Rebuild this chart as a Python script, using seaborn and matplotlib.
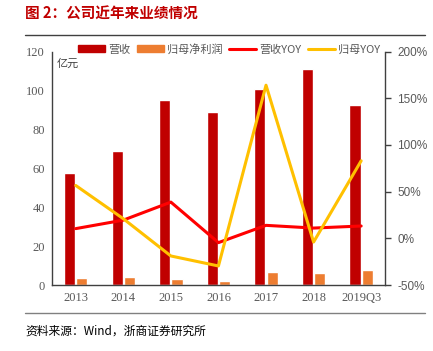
import numpy as np
import pandas as pd
import seaborn as sns
import matplotlib.pyplot as plt
from matplotlib.patches import Patch
from matplotlib.lines import Line2D
from matplotlib.ticker import FuncFormatter

years = ["2013", "2014", "2015", "2016", "2017", "2018", "2019Q3"]
revenue = [57.5, 69, 95, 89, 101, 111, 92.7]
net_profit = [3.6, 4.1, 3.1, 2.2, 6.7, 6.2, 7.9]
revenue_yoy = [0.104, 0.195, 0.388, -0.046, 0.139, 0.11, 0.132]
profit_yoy = [0.566, 0.21, -0.189, -0.296, 1.64, -0.04, 0.83]

sns.set_style("white")
plt.rcParams["font.family"] = ["Noto Sans CJK SC", "DejaVu Sans"]

c_rev, c_np = "#C00000", "#ED7D31"
c_ryoy, c_pyoy = "#FF0000", "#FFC000"

df = pd.DataFrame({
    "年份": years * 2,
    "值": revenue + net_profit,
    "指标": ["营收"] * 7 + ["归母净利润"] * 7,
})

fig = plt.figure(figsize=(4.33, 3.51), dpi=100)
ax = fig.add_axes([0.120, 0.188, 0.769, 0.665])
sns.barplot(data=df, x="年份", y="值", hue="指标", palette=[c_rev, c_np],
            width=0.52, gap=0.1, ax=ax, legend=False, saturation=1)
ax2 = ax.twinx()
pos = np.arange(len(years))
sns.lineplot(x=pos, y=revenue_yoy, ax=ax2, color=c_ryoy, linewidth=2.2)
sns.lineplot(x=pos, y=profit_yoy, ax=ax2, color=c_pyoy, linewidth=2.2)
ax.set_xlim(-0.5, 6.5)
ax.set_ylim(0, 120)
ax.set_yticks(range(0, 121, 20))
ax2.set_ylim(-0.5, 2.0)
ax2.set_yticks(np.arange(-0.5, 2.01, 0.5))
ax2.yaxis.set_major_formatter(FuncFormatter(lambda v, p: f"{v:.0%}"))
ax.set_xlabel("")
ax.set_ylabel("")

for a in (ax, ax2):
    a.spines["top"].set_visible(False)
    for s in ("left", "bottom", "right"):
        a.spines[s].set_color("#404040")
        a.spines[s].set_linewidth(1.0)
ax.spines["right"].set_visible(False)
ax2.spines["left"].set_visible(False)
ax2.spines["bottom"].set_visible(False)

ax.tick_params(axis="both", length=0, labelsize=9, labelcolor="#595959", pad=5)
ax2.tick_params(axis="y", length=4, width=1, color="#404040", labelsize=8.5,
                labelcolor="#595959", pad=5)
for t in ax.get_xticklabels() + ax.get_yticklabels():
    t.set_fontfamily("Liberation Serif")
for t in ax2.get_yticklabels():
    t.set_fontfamily("Liberation Sans")

ax.text(0.015, 0.95, "亿元", transform=ax.transAxes, fontsize=8, color="#404040",
        va="center", ha="left")

handles = [
    Patch(color=c_rev), Patch(color=c_np),
    Line2D([], [], color=c_ryoy, linewidth=2.2),
    Line2D([], [], color=c_pyoy, linewidth=2.2),
]
labels = ["营收", "归母净利润", "营收YOY", "归母YOY"]
fig.legend(handles, labels, loc="center", bbox_to_anchor=(0.529, 0.86), ncol=4,
           frameon=False, fontsize=8, handlelength=2.4, handleheight=0.6,
           handletextpad=0.3, columnspacing=0.6, labelcolor="#595959")

fig.text(25 / 433, 1 - 14 / 351, "图 2：公司近年来业绩情况", fontsize=10.5,
         fontweight="bold", color="#C00000", va="center", ha="left")
fig.add_artist(Line2D([25 / 433, 425 / 433], [1 - 34.5 / 351] * 2,
                      color="#404040", linewidth=1.0))
fig.add_artist(Line2D([25 / 433, 425 / 433], [1 - 312.5 / 351] * 2,
                      color="#808080", linewidth=1.0))
fig.text(25 / 433, 1 - 331 / 351, "资料来源：Wind，浙商证券研究所", fontsize=8.5,
         color="#000000", va="center", ha="left")

fig.savefig("out.png", dpi=100)
